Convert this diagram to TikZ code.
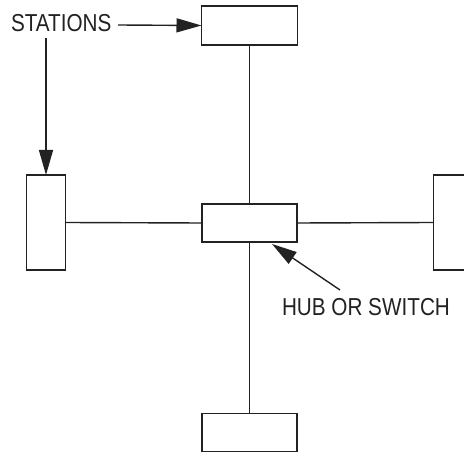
\documentclass[tikz,border=0pt]{standalone}
\usepackage{fontspec}
\setmainfont{Liberation Sans}
\usetikzlibrary{arrows.meta}
\definecolor{ink}{HTML}{222222}
\tikzset{
  station/.style={draw=ink, line width=1.5pt, fill=white, inner sep=0pt, outer sep=0pt},
  wire/.style={draw=ink, line width=1.4pt},
  pointer/.style={draw=ink, line width=1.4pt, -{Triangle[length=25pt,width=14pt]}},
  lbl/.style={inner sep=0pt, outer sep=0pt, font=\fontsize{24.5}{27}\selectfont, text=ink}
}
\newcommand{\narrow}[1]{\scalebox{0.845}[1]{#1}}
\begin{document}
\begin{tikzpicture}[x=1pt,y=-1pt]
\useasboundingbox (0,0) rectangle (464,454);
\clip (0,0) rectangle (464,454);
\node[station, minimum width=96pt, minimum height=39pt] (top) at (249.5,25.5) {};
\node[station, minimum width=39pt, minimum height=95pt] (left) at (46,222.5) {};
\node[station, minimum width=95pt, minimum height=38pt] (hub) at (249.5,223) {};
\node[station, minimum width=39pt, minimum height=95pt] (right) at (453,222.5) {};
\node[station, minimum width=95pt, minimum height=38pt] (bottom) at (249.5,432.5) {};
\draw[wire] (top.south) -- (hub.north);
\draw[wire] (left.east) -- (hub.west);
\draw[wire] (hub.east) -- (right.west);
\draw[wire] (hub.south) -- (bottom.north);
\node[lbl, anchor=base west] (stations) at (11,32) {\narrow{STATIONS}};
\node[lbl, anchor=base west] (hublbl) at (282,316) {\narrow{HUB OR SWITCH}};
\coordinate (s1) at (118,25);
\coordinate (s2) at (46,38);
\coordinate (h1) at (340,290);
\coordinate (h2) at (272,244);
\draw[pointer] (s1) -- (top.west);
\draw[pointer] (s2) -- (left.north);
\draw[pointer] (h1) -- (h2);
\end{tikzpicture}
\end{document}
